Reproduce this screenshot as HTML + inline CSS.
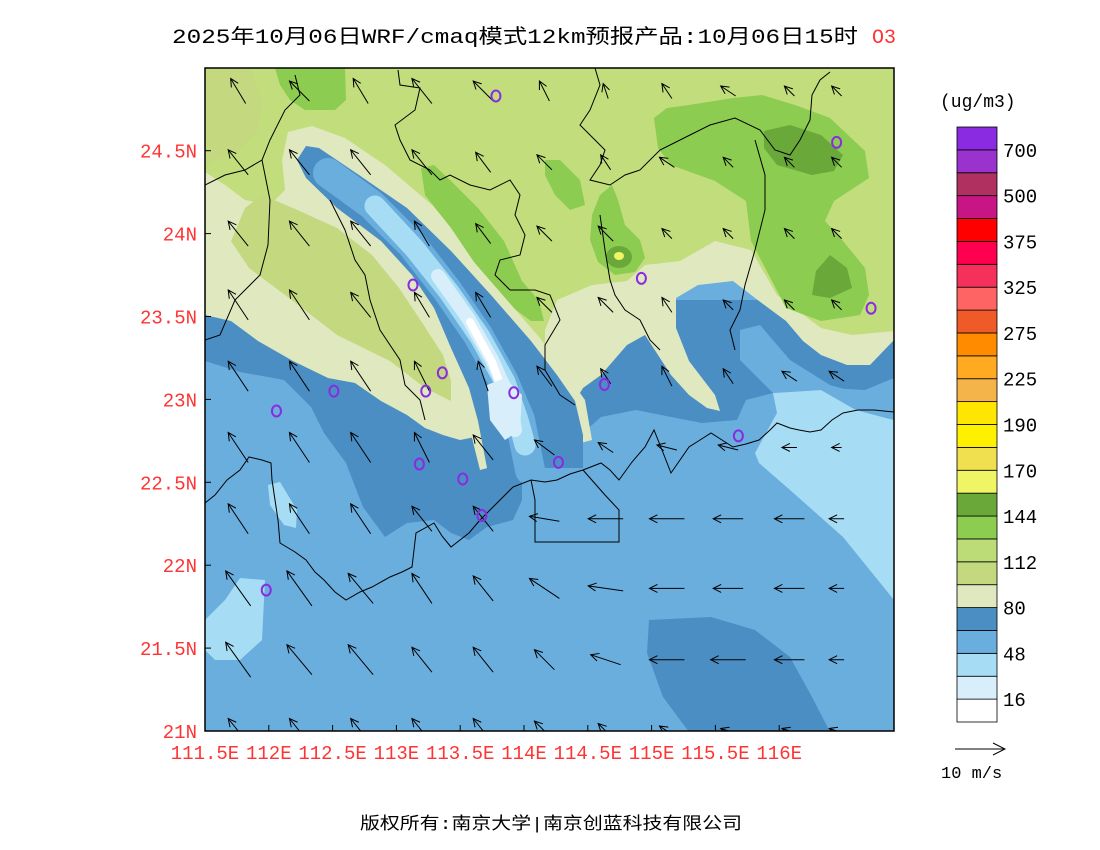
<!DOCTYPE html>
<html><head><meta charset="utf-8"><style>
html,body{margin:0;padding:0;background:#fff;width:1100px;height:850px;overflow:hidden}
svg{display:block}
text{font-family:"Liberation Mono","Noto Sans CJK SC",monospace}
</style></head><body>
<svg id="chart" width="1100" height="850" viewBox="0 0 1100 850" xmlns="http://www.w3.org/2000/svg">
<text x="172" y="43" font-size="20" textLength="686" lengthAdjust="spacingAndGlyphs">2025年10月06日WRF/cmaq模式12km预报产品:10月06日15时</text>
<text x="872" y="43" font-size="20" fill="#ff3333">O3</text>
<defs><clipPath id="pc"><rect x="205" y="68" width="689" height="663"/></clipPath></defs>
<g id="fields" clip-path="url(#pc)">
<rect x="205" y="68" width="689" height="663" fill="#6aaede"/>
<polygon fill="#a6dcf4" points="755,453 777,413 773,393 821,390 856,410 894,420 894,600 843,537 790,490 759,463"/>
<polygon fill="#a6dcf4" points="205,620 225,600 240,578 265,580 262,640 240,660 215,660 205,650"/>
<polygon fill="#a6dcf4" points="268,485 280,482 297,510 296,528 284,525 270,505"/>
<polygon fill="#4a8ec4" points="649,620 711,617 755,630 790,657 812,697 830,732 689,732 663,697 647,653"/>
<polygon fill="#4a8ec4" points="205,310 205,361 240,372 284,380 311,407 324,433 346,463 363,507 385,537 407,523 434,520 451,533 469,540 487,527 513,520 522,500 522,473 539,447 575,440 601,417 636,410 671,417 702,423 737,420 746,400 773,393 790,380 830,388 865,390 894,378 894,300 600,300"/>
<polygon fill="#6aaede" points="740,330 760,325 790,360 830,385 865,395 894,388 894,420 856,410 821,390 773,393 760,380 740,360"/>
<polygon fill="#e0e8c0" points="205,68 894,68 894,340 870,365 847,365 821,355 803,341 786,321 759,301 733,281 698,285 676,298 676,328 689,361 715,395 720,411 707,408 689,395 671,375 645,335 627,345 601,375 583,388 575,401 560,420 460,440 443,435 425,428 407,415 381,401 355,383 328,378 293,361 258,341 231,321 205,315"/>
<polygon fill="#c2dd7c" points="205,68 894,68 894,331 852,335 821,328 777,295 751,250 715,241 680,261 645,265 627,281 592,285 557,300 545,330 545,362 530,345 505,300 475,255 432,205 385,165 345,138 312,126 288,132 282,160 285,190 270,205 245,200 225,185 205,172"/>
<polygon fill="#c4d880" points="262,195 293,208 337,228 372,255 399,288 421,321 443,355 451,381 451,401 425,388 390,361 337,335 293,301 249,268 231,241 245,208"/>
<polygon fill="#c4d880" points="205,68 250,68 262,100 258,130 240,150 205,165"/>
<polygon fill="#8ccc50" points="275,68 345,68 346,100 335,110 305,110 290,100 280,85"/>
<polygon fill="#8ccc50" points="421,168 434,165 451,181 478,208 504,241 522,281 539,301 544,321 531,321 504,301 478,268 451,228 425,195"/>
<polygon fill="#8ccc50" points="545,160 560,160 580,180 585,205 570,210 555,195 545,175"/>
<polygon fill="#8ccc50" points="592,215 600,195 612,185 618,200 625,225 640,240 645,258 635,272 615,275 598,262 590,240"/>
<polygon fill="#8ccc50" points="654,118 667,108 689,105 733,98 762,95 795,105 830,118 865,151 869,178 834,201 825,221 843,241 865,268 869,295 860,315 821,321 786,308 772,281 751,241 746,201 715,181 671,165 658,148"/>
<polygon fill="#6aa83a" points="764,131 790,125 821,135 843,155 834,171 812,175 777,165 764,148"/>
<polygon fill="#6aa83a" points="830,255 847,268 852,288 830,298 812,295 816,271"/>
<ellipse fill="#6aa83a" cx="619" cy="257" rx="13" ry="11"/>
<ellipse fill="#f0f564" cx="619" cy="256" rx="5" ry="4"/>
<polygon fill="#e0e8c0" points="292,150 300,135 325,138 365,165 415,200 460,246 500,292 540,338 565,372 585,400 592,440 480,470 470,430 460,390 443,350 425,312 405,280 375,248 332,215 300,185 288,165"/>
<polygon fill="#4a8ec4" points="306,146 319,148 359,175 407,208 451,251 491,295 531,341 557,375 575,401 583,435 583,468 487,468 478,421 469,388 451,348 434,308 412,275 381,241 337,208 306,178 297,160"/>
<path fill="none" stroke="#6aaede" stroke-width="30" stroke-linecap="round" stroke-linejoin="round" d="M328,173 L372,205 L412,245 L447,290 L478,335 L503,380 L520,420 L530,470"/>
<path fill="none" stroke="#a6dcf4" stroke-width="21" stroke-linecap="round" stroke-linejoin="round" d="M375,206 L414,248 L449,292 L480,337 L505,382 L518,420 L525,445"/>
<path fill="none" stroke="#d8eefa" stroke-width="14" stroke-linecap="round" stroke-linejoin="round" d="M438,276 L468,318 L492,360 L510,400 L515,430"/>
<path fill="none" stroke="#ffffff" stroke-width="8" stroke-linecap="round" d="M470,322 L492,362 L506,400"/>
<polygon fill="#d8eefa" points="487,385 505,378 522,395 520,430 505,440 490,420"/>
</g>
<g id="lines" clip-path="url(#pc)" fill="none" stroke="#000" stroke-width="1">
<polyline points="205,503 215,495 227,480 240,470 249,457 262,460 271,463 272,480 275,500 278,520 280,543 295,552 306,560 315,572 324,580 335,592 346,600 360,592 372,587 390,577 402,572 412,567 414,550 416,533 425,528 434,523 442,536 451,547 460,540 469,533 480,520 500,500 513,487 531,480 545,482 557,480 570,474 583,470 601,463 610,470 619,480 632,462 645,447 654,430 662,450 671,473 680,460 689,447 700,440 711,433 722,440 733,447 746,444 759,440 770,430 777,423 790,428 799,430 810,432 821,430 832,420 843,413 858,410 874,410 894,412"/>
<polyline points="531,480 535,500 535,542 619,542 619,510 605,495 583,470"/>
<polyline points="205,185 225,175 245,170 262,160 270,140 285,110 300,95 295,75"/>
<polyline points="262,160 270,200 268,245 260,275 235,300 220,335 205,340"/>
<polyline points="398,70 400,85 420,88 415,110 395,125 400,140 410,160 430,170 440,180 450,175 470,185 490,190 510,180 520,195 515,215 525,235 520,255 500,260 495,275 510,290 535,290 550,295 560,320 545,345 545,370 560,395 575,405"/>
<polyline points="595,68 600,85 590,110 580,125 595,140 605,150 600,165 590,180 610,185 625,175 640,170 660,150 690,135 710,125 735,118 760,130 775,150 790,155 800,140 810,120 812,95 820,80 830,72"/>
<polyline points="755,140 765,175 765,210 755,250 745,285 740,310 730,330 735,350"/>
<polyline points="600,215 605,250 610,280 615,295 625,310 640,320 650,340 660,350"/>
<polyline points="330,200 345,230 355,260 365,275 370,300 380,330 400,360 405,385 420,400 425,420"/>
</g>
<g id="winds" clip-path="url(#pc)"></g>
<g id="sites"></g>
<rect x="205" y="68" width="689" height="663" fill="none" stroke="#000" stroke-width="1.5"/>
<g id="axes"></g>
<g id="cbar"></g>
<text x="940" y="107" font-size="18">(ug/m3)</text>
<g>
<line x1="955" y1="749" x2="1005" y2="749" stroke="#000" stroke-width="1"/>
<polyline points="993,743 1005,749 993,755" fill="none" stroke="#000" stroke-width="1"/>
<text x="941" y="778" font-size="17">10 m/s</text>
</g>
<text x="360" y="829" font-size="17" textLength="382" lengthAdjust="spacingAndGlyphs">版权所有:南京大学|南京创蓝科技有限公司</text>
</svg>
<script>
const lonTicks = [111.5,112,112.5,113,113.5,114,114.5,115,115.5,116];
const lonLabels = ["111.5E","112E","112.5E","113E","113.5E","114E","114.5E","115E","115.5E","116E"];
const latTicks = [21,21.5,22,22.5,23,23.5,24,24.5];
const latLabels = ["21N","21.5N","22N","22.5N","23N","23.5N","24N","24.5N"];
const levelColors = ["#ffffff","#d8eefa","#a6dcf4","#6aaede","#4a8ec4","#e0e8c0","#c4d880","#bcdc78","#8ccc50","#6aa83a","#f0f564","#f0e050","#fff000","#ffe600","#f5b44a","#ffaa20","#ff8c00","#f05a28","#ff6464","#f5305a","#ff0050","#ff0000","#c71585","#b03060","#9a32cd","#8a2be2"];
const levelLabels = ["16","48","80","112","144","170","190","225","275","325","375","500","700"];
const siteLon = [113.78,116.45,113.13,114.92,116.72,113.36,112.51,113.23,113.92,114.63,112.06,115.68,113.18,114.27,113.52,113.67,111.98];
const siteLat = [24.83,24.55,23.69,23.73,23.55,23.16,23.05,23.05,23.04,23.09,22.93,22.78,22.61,22.62,22.52,22.30,21.85];
const windLon = [111.76,112.24,112.72,113.2,113.68,114.16,114.64,115.12,115.6,116.08,116.45];
const windLat = [24.86,24.43,24.0,23.57,23.14,22.71,22.28,21.86,21.43,21.0];
const windU = [
 [-3,-4,-3,-4,-4,-2,-1,-2,-3,-2,-2],
 [-4,-4,-4,-4,-3,-3,-2,-3,-2,-2,-2],
 [-4,-4,-4,-3,-3,-3,-3,-2,-2,-2,-2],
 [-4,-4,-4,-3,-3,-3,-3,-2,-2,-2,-2],
 [-4,-4,-4,-3,-2,-3,-2,-2,-2,-3,-3],
 [-4,-4,-4,-3,-4,-4,-3,-4,-4,-3,-2],
 [-4,-4,-4,-4,-4,-6,-7,-7,-6,-6,-3],
 [-5,-5,-5,-4,-4,-6,-7,-7,-6,-6,-3],
 [-5,-5,-5,-4,-4,-4,-6,-7,-7,-6,-3],
 [-4,-4,-4,-4,-4,-4,-3,-3,-3,-3,-3]];
const windV = [
 [5,4,5,5,4,4,3,3,2,2,2],
 [5,5,5,5,4,3,3,2,2,2,2],
 [5,5,5,5,4,3,3,2,2,2,2],
 [6,6,5,5,5,3,3,3,2,2,2],
 [6,6,6,6,6,4,3,4,3,2,2],
 [6,6,6,6,5,3,2,1,1,0,0],
 [6,6,6,5,5,1,0,0,0,0,0],
 [7,7,6,6,5,4,1,0,0,0,0],
 [7,6,6,5,5,4,2,0,0,0,0],
 [5,5,5,5,5,4,3,2,1,1,1]];
const NS="http://www.w3.org/2000/svg";
const X0=205,X1=894,Y0=68,Y1=731;
function xOf(lon){return 205+(lon-111.5)*127.6;}
function yOf(lat){return 731-(lat-21)*165.8;}
function mk(tag,attrs,parent){const e=document.createElementNS(NS,tag);for(const k in attrs)e.setAttribute(k,attrs[k]);parent.appendChild(e);return e;}
const axes=document.getElementById('axes');
lonTicks.forEach((v,i)=>{
 const x=xOf(v);
 const t=mk('line',{x1:x,y1:Y1,x2:x,y2:Y1-6,stroke:'#000'},axes);
 
 
 const tx=mk('text',{x:x,y:759,'font-size':19,fill:'#ff3333','text-anchor':'middle'},axes);
 
 
 tx.textContent=lonLabels[i];
});
latTicks.forEach((v,i)=>{
 const y=yOf(v);
 const t=mk('line',{x1:X0,y1:y,x2:X0+6,y2:y,stroke:'#000'},axes);
 
 
 const tx=mk('text',{x:197,y:y+7,'font-size':19,fill:'#ff3333','text-anchor':'end'},axes);
 
 
 tx.textContent=latLabels[i];
});
const cb=document.getElementById('cbar');
const cbTop=127,cbBot=722,bh=(cbBot-cbTop)/levelColors.length;
levelColors.forEach((c,i)=>{
 const y=cbBot-(i+1)*bh;
 const r=mk('rect',{x:957,y:y,width:40,height:bh,fill:c,stroke:'#000','stroke-width':0.8},cb);
 
 
});
levelLabels.forEach((l,i)=>{
 const y=cbBot-(i*2+1)*bh;
 const t=mk('text',{x:1003,y:y+7,'font-size':19},cb);
 
 
 t.textContent=l;
});
const wg=document.getElementById('winds');
const sc=5;
windLat.forEach((la,r)=>{windLon.forEach((lo,c)=>{
 const cx=xOf(lo),cy=yOf(la);
 const dx=windU[r][c]*sc,dy=-windV[r][c]*sc;
 const x1=cx-dx/2,y1=cy-dy/2,x2=cx+dx/2,y2=cy+dy/2;
 const L=Math.hypot(dx,dy)||1,ux=dx/L,uy=dy/L;
 const a=mk('path',{d:`M${x1},${y1}L${x2},${y2}M${x2-8*ux-4*uy},${y2-8*uy+4*ux}L${x2},${y2}L${x2-8*ux+4*uy},${y2-8*uy-4*ux}`,stroke:'#000',fill:'none','stroke-width':1},wg);
 
 
});});
const sg=document.getElementById('sites');
siteLon.forEach((lo,i)=>{
 const e=mk('ellipse',{cx:xOf(lo),cy:yOf(siteLat[i]),rx:4.5,ry:5.5,fill:'none',stroke:'#8a2be2','stroke-width':2},sg);
 
 
});
</script>
</body></html>
